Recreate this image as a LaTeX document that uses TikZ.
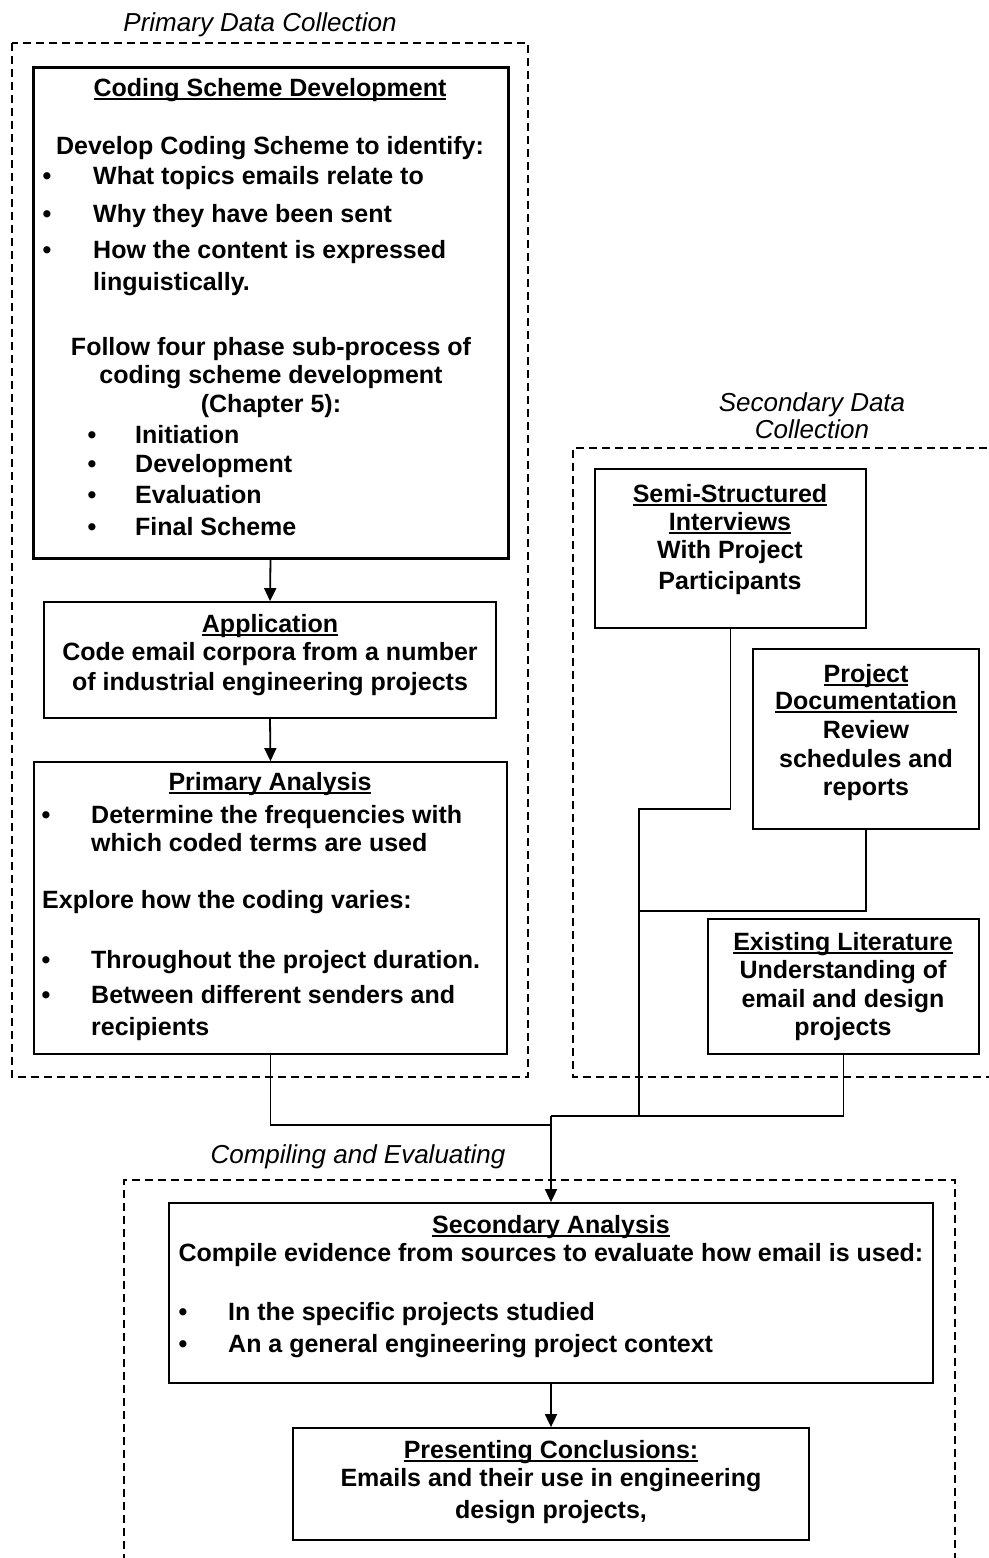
\documentclass[tikz,border=0pt]{standalone}
\usepackage{fontspec}
\setmainfont{Liberation Sans}
\usetikzlibrary{arrows.meta}

% heading underline in the weight of the body font
\newcommand\uln[1]{\setbox0\hbox{#1}\rlap{\rule[-4pt]{\wd0}{1.8pt}}\box0}
\newcommand\bodyfont{\fontsize{25}{28}\selectfont\bfseries}
\newcommand\titlefont{\fontsize{26}{30}\selectfont\mdseries\itshape}

\tikzset{
  region/.style={draw, dash pattern=on 8pt off 5pt, line width=1.4pt},
  box/.style={draw, line width=1.8pt, inner sep=0pt},
  heavybox/.style={box, line width=3pt},
  tl/.style={inner sep=0pt, anchor=base, font=\bodyfont},
  tll/.style={tl, anchor=base west},
  grouptitle/.style={inner sep=0pt, anchor=base, font=\titlefont},
  conn/.style={line width=1.8pt},
  arr/.style={conn, -{Triangle[length=13pt,width=12pt]}},
}

\begin{document}
\begin{tikzpicture}[x=1pt,y=-1pt]
\useasboundingbox (0,0) rectangle (988,1558);
\fill[white] (0,0) rectangle (988,1558);

% ---- group regions ----
\draw[region] (12,43) rectangle (528,1077);
\draw[region] (1000,448) -- (573,448) -- (573,1077) -- (1000,1077);
\draw[region] (124,1575) -- (124,1180) -- (955,1180) -- (955,1575);

\node[grouptitle] (tprim) at (260,31) {Primary Data Collection};
\node[grouptitle] (tsec1) at (812,411) {Secondary Data};
\node[grouptitle] (tsec2) at (812,438) {Collection};
\node[grouptitle] (tcomp) at (358,1163) {Compiling and Evaluating};

% ---- boxes ----
\node[heavybox, minimum width=475, minimum height=491] (coding) at (270.5,312.5) {};
\node[box, minimum width=452, minimum height=116] (appl) at (270,660) {};
\node[box, minimum width=473, minimum height=292] (prim) at (270.5,908) {};
\node[box, minimum width=271, minimum height=159] (semi) at (730.5,548.5) {};
\node[box, minimum width=226, minimum height=180] (docs) at (866,739) {};
\node[box, minimum width=271, minimum height=135] (lit) at (843.5,986.5) {};
\node[box, minimum width=764, minimum height=180] (seca) at (551,1293) {};
\node[box, minimum width=516, minimum height=112] (concl) at (551,1484) {};

% ---- coding scheme development ----
\node[tl] (c0) at (270,96) {\uln{Coding Scheme Development}};
\node[tl] (c1) at (270,154) {Develop Coding Scheme to identify:};
\node[tl] (cb1) at (47,184) {\textbullet};
\node[tll] (c2) at (93,184) {What topics emails relate to};
\node[tl] (cb2) at (47,222) {\textbullet};
\node[tll] (c3) at (93,222) {Why they have been sent};
\node[tl] (cb3) at (47,258) {\textbullet};
\node[tll] (c4) at (93,258) {How the content is expressed};
\node[tll] (c5) at (93,290) {linguistically.};
\node[tl] (c6) at (271,355) {Follow four phase sub-process of};
\node[tl] (c7) at (271,383) {coding scheme development};
\node[tl] (c8) at (271,412) {(Chapter 5):};
\node[tl] (cb4) at (92,443) {\textbullet};
\node[tll] (c9) at (135,443) {Initiation};
\node[tl] (cb5) at (92,472) {\textbullet};
\node[tll] (c10) at (135,472) {Development};
\node[tl] (cb6) at (92,503) {\textbullet};
\node[tll] (c11) at (135,503) {Evaluation};
\node[tl] (cb7) at (92,535) {\textbullet};
\node[tll] (c12) at (135,535) {Final Scheme};

% ---- application ----
\node[tl] (a0) at (270,632) {\uln{Application}};
\node[tl] (a1) at (270,660) {Code email corpora from a number};
\node[tl] (a2) at (270,690) {of industrial engineering projects};

% ---- primary analysis ----
\node[tl] (p0) at (270,790) {\uln{Primary Analysis}};
\node[tl] (pb1) at (46,823) {\textbullet};
\node[tll] (p1) at (91,823) {Determine the frequencies with};
\node[tll] (p2) at (91,851) {which coded terms are used};
\node[tll] (p3) at (42,908) {Explore how the coding varies:};
\node[tl] (pb2) at (46,968) {\textbullet};
\node[tll] (p4) at (91,968) {Throughout the project duration.};
\node[tl] (pb3) at (46,1003) {\textbullet};
\node[tll] (p5) at (91,1003) {Between different senders and};
\node[tll] (p6) at (91,1035) {recipients};

% ---- secondary sources ----
\node[tl] (s0) at (730,502) {\uln{Semi-Structured}};
\node[tl] (s1) at (730,530) {\uln{Interviews}};
\node[tl] (s2) at (730,558) {With Project};
\node[tl] (s3) at (730,589) {Participants};

\node[tl] (d0) at (866,682) {\uln{Project}};
\node[tl] (d1) at (866,709) {\uln{Documentation}};
\node[tl] (d2) at (866,738) {Review};
\node[tl] (d3) at (866,767) {schedules and};
\node[tl] (d4) at (866,795) {reports};

\node[tl] (l0) at (843,950) {\uln{Existing Literature}};
\node[tl] (l1) at (843,978) {Understanding of};
\node[tl] (l2) at (843,1007) {email and design};
\node[tl] (l3) at (843,1035) {projects};

% ---- secondary analysis ----
\node[tl] (e0) at (551,1233) {\uln{Secondary Analysis}};
\node[tl] (e1) at (551,1261) {Compile evidence from sources to evaluate how email is used:};
\node[tl] (eb1) at (183,1320) {\textbullet};
\node[tll] (e2) at (228,1320) {In the specific projects studied};
\node[tl] (eb2) at (183,1352) {\textbullet};
\node[tll] (e3) at (228,1352) {An a general engineering project context};

% ---- conclusions ----
\node[tl] (k0) at (551,1458) {\uln{Presenting Conclusions:}};
\node[tl] (k1) at (551,1486) {Emails and their use in engineering};
\node[tl] (k2) at (551,1518) {design projects,};

% ---- connectors ----
\coordinate (bend) at (639,809);
\coordinate (docjoin) at (639,911);
\coordinate (hub) at (639,1116);
\coordinate (merge) at (551,1116);
\coordinate (primjoin) at (551,1125);

\draw[arr] (coding.south) -- (appl.north);
\draw[arr] (appl.south) -- (prim.north);
\draw[conn] (semi.south) |- (bend) -- (hub) -- (merge);
\draw[conn] (docs.south) |- (docjoin);
\draw[conn] (lit.south) |- (hub);
\draw[conn] (prim.south) |- (primjoin);
\draw[arr] (merge) -- (seca.north);
\draw[arr] (seca.south) -- (concl.north);
\end{tikzpicture}
\end{document}
